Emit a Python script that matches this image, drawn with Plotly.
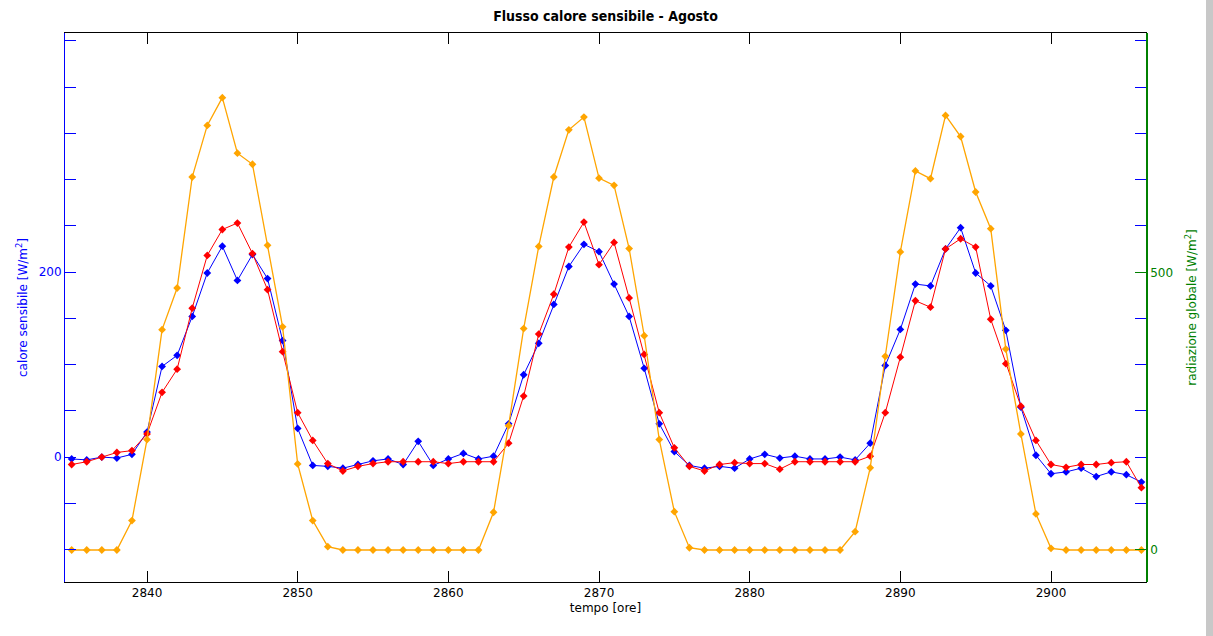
import plotly.graph_objects as go

hours = list(range(2835, 2907))

calore_blu = [-2, -3, 0, -1, 3, 27, 98, 110, 152, 199, 228, 191, 219, 193, 126, 31, -9, -10,
              -12, -8, -4, -2, -8, 17, -9, -2, 4, -2,
              1, 36, 89, 123, 165, 206, 230, 222, 187, 152, 96, 36, 6, -9,
              -12, -10, -12, -2, 3, -1, 1, -2, -2, 0,
              -3, 15, 99, 138, 187, 185, 225, 248, 199, 185, 137, 54, 2, -18,
              -16, -12, -21, -16, -19, -27]

calore_rosso = [-8, -5, 0, 5, 7, 25, 70, 95, 161, 218, 246, 253, 220, 181, 114, 48, 18, -7,
                -15, -10, -7, -5, -5, -5, -5, -7, -5, -5,
                -5, 15, 66, 133, 176, 227, 254, 208, 232, 172, 111, 48, 10, -10,
                -15, -8, -6, -7, -7, -13, -5, -5, -5, -5,
                -5, 1, 48, 108, 169, 162, 225, 236, 227, 149, 101, 55, 18, -8,
                -11, -8, -8, -6, -5, -33]

radiazione = [0, 0, 0, 0, 53, 199, 397, 472, 672, 765, 815, 715, 695, 549, 402, 155, 53, 6,
              0, 0, 0, 0, 0, 0, 0, 0, 0, 0,
              68, 224, 399, 547, 672, 757, 780, 670, 657, 543, 386, 199, 69, 4,
              0, 0, 0, 0, 0, 0, 0, 0, 0, 0,
              33, 148, 349, 537, 683, 669, 783, 745, 645, 579, 362, 209, 65, 3,
              0, 0, 0, 0, 0, 0]

x_ticks = [2840, 2850, 2860, 2870, 2880, 2890, 2900]
left_ticks = [-100, -50, 0, 50, 100, 150, 200, 250, 300, 350, 400, 450]
left_labelled = [0, 200]
left_minor = [v for v in left_ticks if v not in left_labelled]
right_ticks = [0, 500]

BLUE = "#0000ff"
RED = "#ff0000"
ORANGE = "#ffa500"
GREEN = "#008000"
FONT = "DejaVu Sans"

fig = go.Figure()
fig.add_trace(go.Scatter(x=hours, y=calore_blu, mode="lines+markers",
                         line=dict(color=BLUE, width=1),
                         marker=dict(symbol="diamond", size=6, color=BLUE),
                         name="calore sensibile (blu)", yaxis="y"))
fig.add_trace(go.Scatter(x=hours, y=calore_rosso, mode="lines+markers",
                         line=dict(color=RED, width=1),
                         marker=dict(symbol="diamond", size=6, color=RED),
                         name="calore sensibile (rosso)", yaxis="y"))
fig.add_trace(go.Scatter(x=hours, y=radiazione, mode="lines+markers",
                         line=dict(color=ORANGE, width=1.3),
                         marker=dict(symbol="diamond", size=6, color=ORANGE),
                         name="radiazione globale", yaxis="y2"))

fig.update_layout(
    width=1213, height=636,
    margin=dict(l=65, r=67, t=33, b=54),
    paper_bgcolor="white", plot_bgcolor="white",
    showlegend=False,
    font=dict(family=FONT, size=12, color="black"),
    title=dict(text="<b>Flusso calore sensibile - Agosto</b>",
               font=dict(family="Liberation Sans Narrow, DejaVu Sans Condensed, Liberation Sans", size=14, color="black"),
               x=0.5, xref="paper", xanchor="center",
               y=1 - 16 / 636, yref="container", yanchor="middle"),
    xaxis=dict(range=[2834.557, 2906.305], tickvals=x_ticks,
               ticks="inside", ticklen=11, tickcolor="black", tickwidth=1,
               showline=True, linecolor="black", linewidth=1, mirror="ticks",
               showgrid=False, zeroline=False,
               tickfont=dict(family=FONT, size=12, color="black"),
               title=dict(text="tempo [ore]", font=dict(family=FONT, size=12, color="black"),
                          standoff=4)),
    yaxis=dict(range=[-135, 458.4], tickvals=left_labelled,
               ticks="inside", ticklen=11, tickcolor=BLUE, tickwidth=1,
               minor=dict(tickvals=left_minor, ticks="inside", ticklen=11,
                          tickcolor=BLUE, tickwidth=1, showgrid=False),
               showline=True, linecolor=BLUE, linewidth=1, mirror="ticks",
               showgrid=False, zeroline=False,
               tickfont=dict(family=FONT, size=12, color=BLUE),
               title=dict(text="calore sensibile [W/m<sup>2</sup>]",
                          font=dict(family=FONT, size=12, color=BLUE), standoff=8)),
    yaxis2=dict(range=[-57.7, 931.5], tickvals=right_ticks, overlaying="y", side="right",
                ticks="inside", ticklen=11, tickcolor=GREEN, tickwidth=1,
                showline=True, linecolor=GREEN, linewidth=1.5,
                showgrid=False, zeroline=False,
                tickfont=dict(family=FONT, size=12, color=GREEN),
                title=dict(text="radiazione globale [W/m<sup>2</sup>]",
                           font=dict(family=FONT, size=12, color=GREEN), standoff=16)),
    shapes=[dict(type="rect", xref="paper", yref="paper",
                 x0=(1206 - 65) / 1081, x1=(1214 - 65) / 1081, y0=-0.2, y1=1.2,
                 fillcolor="#c8c8c8", line=dict(width=0), layer="above")],
)

fig.write_html("out.html")
